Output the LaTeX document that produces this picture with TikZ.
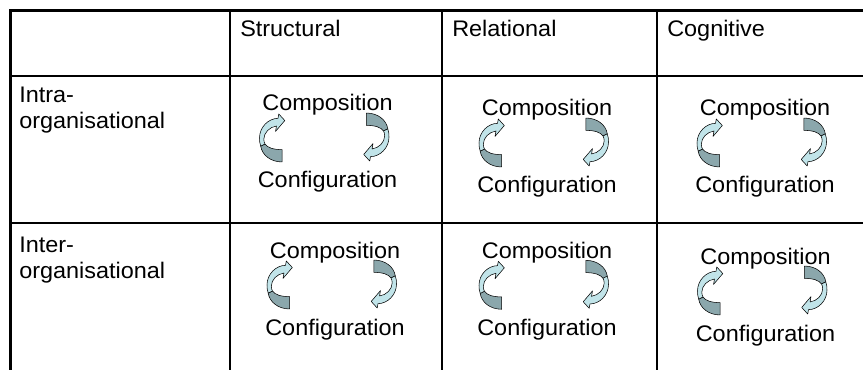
\documentclass[tikz,border=0pt]{standalone}
\usepackage{fontspec}
\setmainfont[FakeStretch=1.04]{Liberation Sans}
\usepackage{xcolor}
\usepackage{tikz}
\definecolor{ribbonlight}{RGB}{193,228,233}
\definecolor{ribbondark}{RGB}{139,167,172}

\begin{document}
\begin{tikzpicture}[x=0.75pt,y=0.75pt,yscale=-1,xscale=1,
  celltext/.style={inner sep=0pt,font=\fontsize{16.9}{19.2}\selectfont},
  tblline/.style={line width=1.1pt},
  tblborder/.style={line width=2.2pt},
  ribbonfront/.style={fill=ribbonlight,draw=black,line width=0.4pt,line join=round},
  ribbonback/.style={fill=ribbondark,draw=black,line width=0.4pt,line join=round},
  bentarrow/.pic={
    \filldraw[ribbonback] (22.7,44) .. controls (11,44) and (2.5,37.5) .. (1.2,29.5) -- (5.5,27.5) .. controls (8,31) and (14,32.7) .. (22.7,32.7) -- cycle;
    \filldraw[ribbonfront] (1.2,29.5) .. controls (0.3,27) and (0,25) .. (0,22) .. controls (0,12) and (9,4) .. (18.5,4) -- (19.3,0) -- (25.3,6) -- (16,16) -- (17,11) .. controls (10,12) and (4.5,17) .. (4.3,23) .. controls (4.3,25) and (4.8,26.5) .. (5.5,27.5) -- cycle;
  },
  cellcycle/.pic={
    \begin{scope}[yscale=-1]
    \node[celltext,anchor=base] (-comp) at (0,0) {Composition};
    \pic[yscale=-1.09] at (-68,3) {bentarrow};
    \pic[rotate=180,yscale=-1.09] at (61.5,50) {bentarrow};
    \node[celltext,anchor=base] (-conf) at (0,77) {Configuration};
    \end{scope}
  }]
\useasboundingbox (0,0) rectangle (863,370);

%Straight Lines
\draw[tblline] (230,10) -- (230,370);
\draw[tblline] (442,10) -- (442,370);
\draw[tblline] (657,10) -- (657,370);
\draw[tblline] (10,76) -- (863,76);
\draw[tblline] (10,223) -- (863,223);
%Straight Lines: outer border
\draw[tblborder] (863,10.5) -- (10.3,10.5) -- (10.3,370);

% Text Node
\node[celltext,anchor=base west] (hStruct) at (240,37) {Structural};
% Text Node
\node[celltext,anchor=base west] (hRel) at (452,37) {Relational};
% Text Node
\node[celltext,anchor=base west] (hCog) at (667,37) {Cognitive};
% Text Node (base is the last line)
\node[celltext,anchor=base west,align=left] (rIntra) at (19,128.6) {Intra-\\organisational};
% Text Node
\node[celltext,anchor=base west,align=left] (rInter) at (19,278) {Inter-\\organisational};

%Shape: Curved Arrows with texts
\pic (c11) at (327.5,111) {cellcycle};
\pic (c21) at (547,116) {cellcycle};
\pic (c31) at (765,116) {cellcycle};
\pic (c12) at (335,258) {cellcycle};
\pic (c22) at (547,258.3) {cellcycle};
\pic (c32) at (765.5,264) {cellcycle};

\end{tikzpicture}
\end{document}
